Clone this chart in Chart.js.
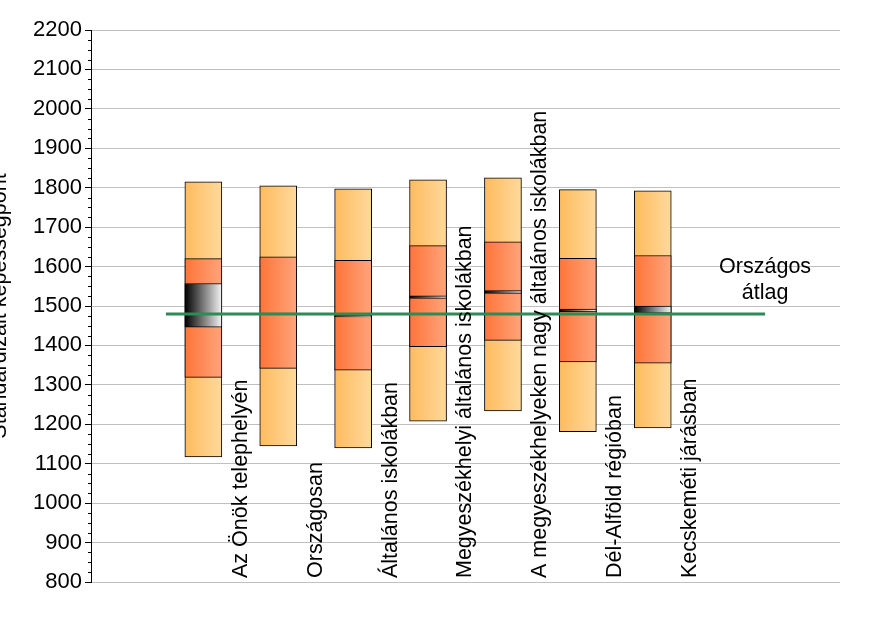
<!DOCTYPE html>
<html>
<head>
<meta charset="utf-8">
<script src="https://cdn.jsdelivr.net/npm/chart.js@4/dist/chart.umd.min.js"></script>
<style>
html,body{margin:0;padding:0;background:#fff;}
#wrap{width:874px;height:617px;position:relative;}
</style>
</head>
<body>
<div id="wrap"><canvas id="c" width="874" height="617"></canvas></div>
<script>
const categories = ['Az Önök telephelyén','Országosan','Általános iskolákban','Megyeszékhelyi általános iskolákban','A megyeszékhelyeken nagy általános iskolákban','Dél-Alföld régióban','Kecskeméti járásban'];
const p5  = [1117,1145,1140,1208,1234,1181,1191];
const p25 = [1319,1342,1337,1397,1413,1358,1355];
const p75 = [1620,1625,1616,1653,1663,1621,1628];
const p95 = [1815,1805,1797,1820,1825,1795,1792];
const ciLow  = [1446,1479,1472,1519,1532,1485,1482];
const ciHigh = [1557,1482,1477,1526,1539,1492,1500];
const nationalAvg = 1480;
const avgLabel = ['Országos','átlag'];
const yTitle = 'Standardizált képességpont';
const yTicks = {min: 800, max: 2200, step: 100, minorStep: 25};

const FONT = "'Liberation Sans', Arial, sans-serif";
const BAR_W = 37;

function grad(c0, c1) {
  return (ctx) => {
    const chart = ctx.chart;
    if (ctx.type !== 'data' || !chart.chartArea || !chart.scales.x) return c0;
    const px = chart.scales.x.getPixelForValue(ctx.dataIndex + 1);
    const g = chart.ctx.createLinearGradient(px - BAR_W/2, 0, px + BAR_W/2, 0);
    g.addColorStop(0, c0);
    g.addColorStop(1, c1);
    return g;
  };
}

const rangeData = (lo, hi) => lo.map((v, i) => ({x: i + 1, y: [v, hi[i]]}));

const barCommon = {
  type: 'bar',
  grouped: false,
  barThickness: BAR_W,
  borderColor: '#000',
  borderWidth: 1,
  borderSkipped: false
};

const extras = {
  id: 'extras',
  beforeDatasetsDraw(chart) {
    const c = chart.ctx, ys = chart.scales.y, left = chart.chartArea.left;
    c.save();
    c.strokeStyle = '#000';
    c.lineWidth = 1;
    for (let v = yTicks.min; v <= yTicks.max; v += yTicks.minorStep) {
      if (v % yTicks.step === 0) continue;
      const y = Math.round(ys.getPixelForValue(v)) + 0.5;
      c.beginPath();
      c.moveTo(left - 3, y);
      c.lineTo(left, y);
      c.stroke();
    }
    c.restore();
  },
  afterDraw(chart) {
    const c = chart.ctx, xs = chart.scales.x, ys = chart.scales.y;
    c.save();
    c.fillStyle = '#000';
    // category labels
    c.font = '21.5px ' + FONT;
    c.textAlign = 'left';
    c.textBaseline = 'middle';
    categories.forEach((t, i) => {
      const x = xs.getPixelForValue(i + 1.5);
      c.save();
      c.translate(x, ys.bottom - 4);
      c.rotate(-Math.PI / 2);
      c.fillText(t, 0, 0);
      c.restore();
    });
    // average label
    c.textAlign = 'center';
    const ax = xs.getPixelForValue(8.5);
    const ay = ys.getPixelForValue(nationalAvg);
    c.fillText(avgLabel[0], ax, ay - 47);
    c.fillText(avgLabel[1], ax, ay - 21);
    // y title (clipped at left edge)
    c.save();
    c.translate(6, (ys.top + ys.bottom) / 2);
    c.rotate(-Math.PI / 2);
    c.textAlign = 'center';
    c.textBaseline = 'alphabetic';
    c.font = '21.5px ' + FONT;
    c.fillText(yTitle, 0, 0);
    c.restore();
    c.restore();
  }
};

new Chart(document.getElementById('c'), {
  data: {
    datasets: [
      Object.assign({}, barCommon, {
        label: 'p5-p95',
        data: rangeData(p5, p95),
        backgroundColor: grad('#ffbb5e', '#ffd99c'),
        order: 3
      }),
      Object.assign({}, barCommon, {
        label: 'p25-p75',
        data: rangeData(p25, p75),
        backgroundColor: grad('#ff7438', '#ffa47c'),
        order: 2
      }),
      Object.assign({}, barCommon, {
        label: 'CI',
        data: rangeData(ciLow, ciHigh),
        backgroundColor: grad('#000000', '#f4f4f4'),
        order: 1
      }),
      {
        type: 'line',
        label: 'Országos átlag',
        data: [{x: 0.5, y: nationalAvg}, {x: 8.5, y: nationalAvg}],
        borderColor: '#2e8a56',
        borderWidth: 3,
        pointRadius: 0,
        order: 0
      }
    ]
  },
  options: {
    responsive: false,
    animation: false,
    devicePixelRatio: 1,
    layout: {padding: {left: 0, right: 34, top: 30, bottom: 35}},
    plugins: {legend: {display: false}, tooltip: {enabled: false}},
    scales: {
      x: {
        type: 'linear',
        min: -0.5,
        max: 9.5,
        offset: false,
        display: false
      },
      y: {
        type: 'linear',
        min: yTicks.min,
        max: yTicks.max,
        afterFit(scale) { scale.width = 91; },
        ticks: {
          stepSize: yTicks.step,
          color: '#000',
          padding: 3,
          font: {family: FONT, size: 22},
          callback: (v) => String(v)
        },
        grid: {
          color: '#c0c0c0',
          tickColor: '#000',
          tickLength: 6,
          lineWidth: 1
        },
        border: {display: true, color: '#000', width: 1}
      }
    }
  },
  plugins: [extras]
});
</script>
</body>
</html>
